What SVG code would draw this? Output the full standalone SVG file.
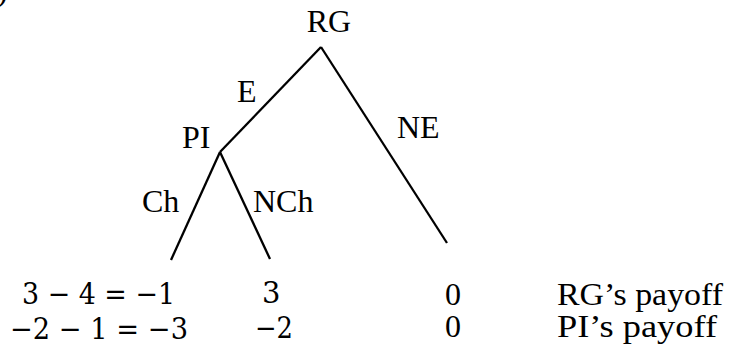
<svg xmlns="http://www.w3.org/2000/svg" width="729" height="345" viewBox="0 0 729 345">
<style>
.t{font-family:'Liberation Serif','DejaVu Serif',serif;font-size:32px;fill:#000}
.m{font-family:'DejaVu Serif','Liberation Serif',serif;font-size:29px;fill:#000}
.e{stroke:#000;stroke-width:2.3;fill:none;stroke-linecap:butt}
</style>
<rect width="729" height="345" fill="#fff"/>
<text class="t" x="-3" y="1">)</text>
<g id="connectors">
<line class="e" x1="321" y1="47" x2="220" y2="152"/>
<line class="e" x1="321" y1="47" x2="447" y2="243"/>
<line class="e" x1="220" y1="152" x2="171" y2="260"/>
<line class="e" x1="220" y1="152" x2="270" y2="259"/>
<text class="t" x="237" y="102">E</text>
<text class="t" x="397" y="138">NE</text>
<text class="t" x="142" y="212">Ch</text>
<text class="t" x="253" y="212">NCh</text>
</g>
<g id="node-RG"><text class="t" x="329" y="32" text-anchor="middle">RG</text></g>
<g id="node-PI"><text class="t" x="182" y="148">PI</text></g>
<g id="leaf-Ch">
<text class="m" x="22" y="304" textLength="153" lengthAdjust="spacingAndGlyphs">3 − 4 = −1</text>
<text class="m" x="10" y="339" textLength="178" lengthAdjust="spacingAndGlyphs">−2 − 1 = −3</text>
</g>
<g id="leaf-NCh">
<text class="m" x="262" y="303">3</text>
<text class="m" x="255" y="338" textLength="38" lengthAdjust="spacingAndGlyphs">−2</text>
</g>
<g id="leaf-NE">
<text class="t" x="445" y="305">0</text>
<text class="t" x="445" y="337">0</text>
</g>
<g id="legend">
<text class="t" x="557" y="305" textLength="166" lengthAdjust="spacingAndGlyphs">RG’s payoff</text>
<text class="t" x="557" y="337" textLength="160" lengthAdjust="spacingAndGlyphs">PI’s payoff</text>
</g>
</svg>
